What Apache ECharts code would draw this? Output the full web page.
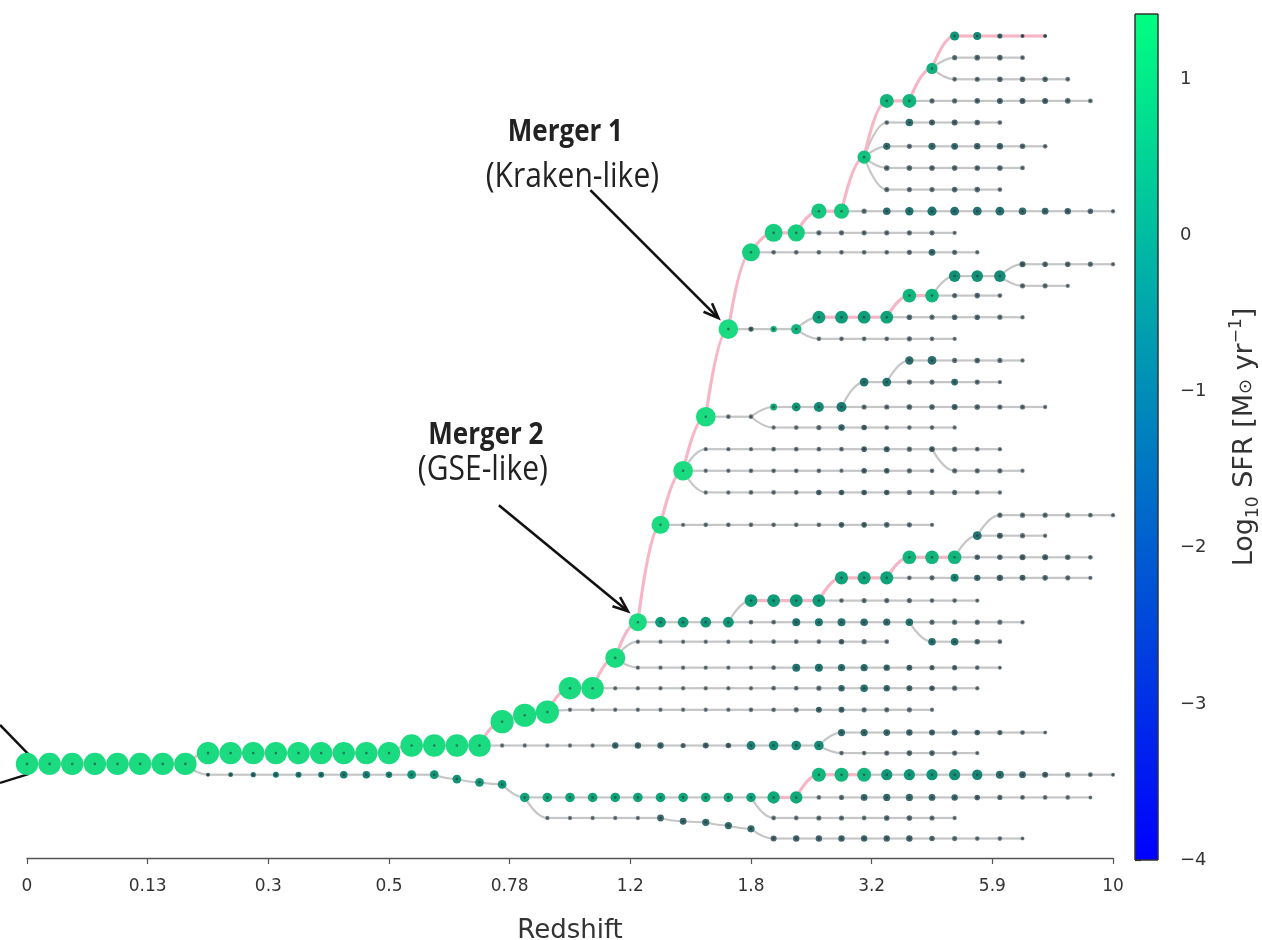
<!DOCTYPE html>
<html>
<head>
<meta charset="utf-8">
<script src="https://cdn.jsdelivr.net/npm/echarts@6/dist/echarts.min.js"></script>
<style>
  html, body { margin: 0; padding: 0; background: #ffffff; }
  #chart { width: 1262px; height: 940px; }
</style>
</head>
<body>
<div id="chart"></div>
<script>
// Redshift tick labels and the snapshot positions where they sit
const tickSnaps = [0, 5.333, 10.667, 16, 21.333, 26.667, 32, 37.333, 42.667, 48];
const tickLabels = ['0', '0.13', '0.3', '0.5', '0.78', '1.2', '1.8', '3.2', '5.9', '10'];
const sfrTicks = [-4, -3, -2, -1, 0, 1];

// Merger tree branches. Each branch hangs off a parent node [snapshot, row];
// its nodes occupy consecutive snapshots after the parent.
// branch 0 is the main progenitor branch (starts at snapshot 0).
const branchFrom = [
  null,
  [7, 33.65], [34, 35.2], [34, 35.2], [22, 35.2], [32, 35.2],
  [20, 32.8], [35, 32.8], [35, 32.8], [23, 31.25], [25, 30.15],
  [26, 28.75], [26, 28.75], [27, 27.1], [31, 27.1], [35, 26.1],
  [38, 25.05], [41, 24.1], [42, 23.1], [39, 27.1], [28, 22.6],
  [29, 20.1], [29, 20.1], [29, 20.1], [40, 19.1], [30, 17.6],
  [32, 17.6], [32, 17.6], [36, 17.15], [38, 16.0], [31, 13.55],
  [34, 13.55], [34, 13.55], [38, 13.0], [40, 12.0], [43, 11.1],
  [43, 11.1], [32, 10.0], [34, 9.1], [36, 8.1], [37, 5.6],
  [37, 5.6], [37, 5.6], [37, 5.6], [39, 3.0], [40, 1.5],
  [40, 1.5]
];

// Tree row of each branch (a list where the branch drifts between rows)
const branchRow = [
  [33.65, 33.65, 33.65, 33.65, 33.65, 33.65, 33.65, 33.65,
   33.15, 33.15, 33.15, 33.15, 33.15, 33.15, 33.15, 33.15, 33.15,
   32.8, 32.8, 32.8, 32.8,
   31.7, 31.4, 31.25, 30.15, 30.15, 28.75, 27.1, 22.6, 20.1, 17.6, 13.55, 10.0,
   9.1, 9.1, 8.1, 8.1, 5.6, 3.0, 3.0, 1.5, 0, 0, 0, 0, 0],
  [34.15, 34.15, 34.15, 34.15, 34.15, 34.15, 34.15, 34.15, 34.15, 34.15, 34.15,
   34.35, 34.5, 34.6,
   35.2, 35.2, 35.2, 35.2, 35.2, 35.2, 35.2, 35.2, 35.2, 35.2, 35.2, 35.2, 35.2],
  34.15, 35.2,
  [36.15, 36.15, 36.15, 36.15, 36.15, 36.15, 36.3, 36.35, 36.5, 36.65,
   37.1, 37.1, 37.1, 37.1, 37.1, 37.1, 37.1, 37.1, 37.1, 37.1, 37.1, 37.1],
  36.15,
  32.8, 32.2, 33.15, 31.15, 30.15,
  28.0, 29.2, 27.1, 26.1, 25.05,
  24.1, 23.1, 22.15, 28.0, 22.6,
  19.1, 20.1, 21.1, 20.1, 17.6,
  17.15, 18.1, 16.0, 15.0, 13.55,
  13.0, 14.0, 12.0, 11.1, 10.55,
  11.55, 10.0, 9.1, 8.1, 4.0,
  5.1, 6.1, 7.1, 3.0, 1.0,
  2.0
];

// log10 stellar mass of every node, branch by branch
const branchMass = [
  [10.6, 10.6, 10.6, 10.6, 10.6, 10.6, 10.6, 10.6, 10.6, 10.6, 10.6, 10.6, 10.6, 10.6, 10.6,
   10.6, 10.6, 10.6, 10.6, 10.6, 10.6,
   10.8, 10.8, 10.8, 10.6, 10.6, 10.0, 9.5, 9.5, 9.9, 9.9, 9.9, 9.5, 9.5, 9.3, 8.8, 8.8,
   8.3, 8.5, 8.5, 7.8, 7.3, 7.0, 6.3, 6.0, 6.0],
  [6.0, 6.2, 6.3, 6.5, 6.5, 6.5, 6.9, 6.9, 6.6, 7.2, 7.2, 7.2, 7.2, 7.2,
   7.4, 7.4, 7.4, 7.4, 7.4, 7.4, 7.4, 7.4, 7.4, 7.4, 7.4, 8.1, 8.1],
  [8.5, 8.5, 8.5, 7.8, 7.8, 7.8, 7.8, 7.6, 7.0, 6.7, 6.5, 6.4, 6.2, 6.0],
  [6.2, 6.3, 6.7, 6.8, 6.8, 6.7, 6.6, 6.4, 6.3, 6.2, 6.2, 6.2, 6.0],
  [6.1, 6.1, 6.1, 6.1, 6.1, 6.7, 6.7, 6.8, 6.8, 6.8, 6.5, 6.6, 6.6, 6.6, 6.6, 6.6, 6.6, 6.4, 6.3, 6.2, 6.2, 6.0],
  [6.2, 6.2, 6.3, 6.3, 6.2, 6.4, 6.4, 6.3, 6.1],
  [6.1, 6.1, 6.1, 6.1, 6.1, 6.6, 6.6, 6.6, 6.3, 6.5, 6.4, 7.2, 7.4, 7.4, 7.4],
  [6.8, 6.8, 6.7, 6.6, 6.5, 6.5, 6.4, 6.3, 6.2, 6.0],
  [6.2, 6.2, 6.3, 6.4, 6.4, 6.3, 6.1],
  [6.1, 6.1, 6.1, 6.1, 6.1, 6.1, 6.1, 6.1, 6.2, 6.2, 6.3, 6.5, 6.5, 6.3, 6.3, 6.3, 6.1],
  [6.1, 6.1, 6.1, 6.1, 6.1, 6.1, 6.1, 6.2, 6.2, 6.3, 6.6, 6.9, 6.6, 6.5, 6.4, 6.3, 6.1],
  [6.1, 6.1, 6.1, 6.1, 6.1, 6.1, 6.2, 6.2, 6.2, 6.4, 6.3, 6.2],
  [6.1, 6.1, 6.1, 6.1, 6.1, 6.1, 6.2, 7.0, 7.0, 6.8, 6.8, 6.6, 6.5, 6.3, 6.3, 6.2, 6.0],
  [7.7, 7.7, 7.7, 7.7, 6.2, 6.2, 7.0, 7.0, 7.0, 6.9, 6.8, 6.9, 6.3, 6.3, 6.3, 6.3, 6.1],
  [8.2, 8.2, 8.2, 8.2, 6.2, 6.3, 6.3, 6.3, 6.2, 6.2, 6.1],
  [8.3, 8.3, 8.3, 6.2, 6.3, 7.0, 6.6, 6.6, 6.5, 6.4, 6.3, 6.1],
  [8.4, 8.4, 8.4, 6.4, 6.4, 6.5, 6.5, 6.4, 6.2],
  [7.2, 6.5, 6.3, 6.1],
  [6.3, 6.3, 6.3, 6.3, 6.2, 6.1],
  [6.9, 6.9, 6.4, 6.2],
  [6.1, 6.2, 6.2, 6.2, 6.2, 6.2, 6.2, 6.4, 6.4, 6.4, 6.3, 6.1],
  [6.1, 6.1, 6.1, 6.2, 6.2, 6.2, 6.2, 6.4, 6.5, 6.3, 6.4, 6.3, 6.2, 6.1],
  [6.1, 6.1, 6.2, 6.2, 6.2, 6.2, 6.1, 6.4, 6.4, 6.3, 6.2],
  [6.1, 6.1, 6.2, 6.2, 6.2, 6.4, 6.4, 6.4, 6.4, 6.3, 6.3, 6.3, 6.2, 6.1],
  [6.3, 6.3, 6.3, 6.1],
  [6.2, 6.2],
  [6.7, 7.2, 7.5, 7.5, 6.3, 6.3, 6.4, 6.4, 6.5, 6.4, 6.3, 6.3, 6.1],
  [6.1, 6.2, 6.3, 6.6, 6.4, 6.2, 6.2, 6.2, 6.1],
  [7.2, 7.2, 6.3, 6.3, 6.7, 6.3, 6.1],
  [7.1, 7.2, 6.3, 6.4, 6.3, 6.1],
  [6.3, 6.6, 7.6],
  [8.2, 8.2, 8.2, 8.2, 6.4, 6.3, 6.4, 6.4, 6.3, 6.1],
  [6.2, 6.2, 6.2, 6.2, 6.3, 6.2, 6.1],
  [8.4, 8.4, 6.3, 6.4, 6.2],
  [7.9, 7.9, 7.9],
  [6.5, 6.4, 6.4, 6.3, 6.1],
  [6.3, 6.3, 6.1],
  [6.2, 6.2, 6.2, 6.2, 6.2, 6.2, 6.3, 6.7, 6.3, 6.1],
  [6.3, 6.3, 6.3, 6.3, 6.3, 6.3, 6.1],
  [6.3, 6.9, 7.1, 7.3, 7.2, 7.2, 7.2, 6.9, 6.7, 6.6, 6.4, 6.1],
  [6.2, 6.9, 6.5, 6.5, 6.4, 6.2],
  [6.8, 6.3, 6.8, 6.7, 6.6, 6.6, 6.4, 6.2],
  [6.4, 6.4, 6.4, 6.4, 6.4, 6.4, 6.2],
  [6.3, 6.3, 6.3, 6.4, 6.4, 6.2],
  [6.3, 6.3, 6.4, 6.5, 6.5, 6.5, 6.4, 6.2],
  [6.3, 6.4, 6.4, 6.2],
  [6.2, 6.3, 6.4, 6.4, 6.4, 6.2]
];

// log10 SFR [Msun/yr] of every node, branch by branch
const branchSfr = [
  [1.1, 1.1, 1.1, 1.1, 1.1, 1.1, 1.1, 1.1, 1.1, 1.1, 1.1, 1.1, 1.1, 1.1, 1.1, 1.1, 1.1,
   1.1, 1.1, 1.1, 1.1, 1.1, 1.1, 1.1, 1.1, 1.1,
   1.1, 1.1, 1.1, 1.1, 1.1, 1.1, 0.9, 0.9, 0.9, 0.8, 0.8, 0.7, 0.5, 0.5, 0.4, 0.0,
   -0.2, -1.0, -1.2, -1.2],
  [-0.9, -0.8, -0.7, -0.5, -0.5, -0.5, -0.4, -0.4, -0.3, 0.0, 0.0, 0.0, 0.0, 0.0,
   0.2, 0.2, 0.2, 0.2, 0.2, 0.2, 0.2, 0.2, 0.2, 0.2, 0.2, 0.3, 0.3],
  [0.5, 0.5, 0.5, 0.0, 0.0, 0.0, -0.1, -0.3, -0.8, -1.0, -1.2, -1.3, -1.4, -1.5],
  [-1.5, -1.4, -1.0, -0.9, -0.9, -1.0, -1.0, -1.2, -1.3, -1.4, -1.5, -1.5, -1.6],
  [-1.6, -1.6, -1.6, -1.6, -1.6, -1.0, -1.0, -0.9, -0.9, -0.9, -1.2, -1.1, -1.1, -1.1, -1.1,
   -1.1, -1.1, -1.3, -1.4, -1.5, -1.5, -1.6],
  [-1.5, -1.5, -1.4, -1.4, -1.5, -1.3, -1.3, -1.4, -1.6],
  [-1.6, -1.6, -1.6, -1.6, -1.6, -1.0, -1.0, -1.0, -1.3, -1.1, -1.2, -0.4, -0.2, -0.2, -0.2],
  [-0.9, -0.9, -1.0, -1.0, -1.1, -1.1, -1.2, -1.3, -1.4, -1.6],
  [-1.5, -1.5, -1.4, -1.3, -1.3, -1.4, -1.6],
  [-1.6, -1.6, -1.6, -1.6, -1.6, -1.6, -1.6, -1.6, -1.5, -1.5, -1.4, -1.1, -1.1, -1.4, -1.4, -1.4, -1.6],
  [-1.6, -1.6, -1.6, -1.6, -1.6, -1.6, -1.6, -1.5, -1.5, -1.4, -1.0, -0.7, -1.0, -1.1, -1.2, -1.4, -1.6],
  [-1.6, -1.6, -1.6, -1.6, -1.6, -1.6, -1.5, -1.5, -1.5, -1.2, -1.4, -1.5],
  [-1.6, -1.6, -1.6, -1.6, -1.6, -1.6, -1.5, -0.6, -0.6, -0.8, -0.8, -1.0, -1.1, -1.3, -1.3, -1.5, -1.6],
  [0.1, 0.1, 0.0, 0.0, -1.5, -1.5, -0.6, -0.5, -0.7, -0.8, -0.9, -0.6, -1.4, -1.4, -1.4, -1.5, -1.6],
  [0.1, 0.1, 0.1, 0.1, -1.5, -1.4, -1.4, -1.4, -1.5, -1.5, -1.6],
  [0.2, 0.2, 0.2, -1.5, -1.4, -0.3, -1.0, -1.1, -1.2, -1.3, -1.4, -1.6],
  [0.5, 0.5, 0.5, -1.3, -1.3, -1.2, -1.2, -1.3, -1.5],
  [-0.7, -1.2, -1.4, -1.6],
  [-1.4, -1.4, -1.4, -1.4, -1.5, -1.6],
  [-0.7, -0.7, -1.3, -1.5],
  [-1.6, -1.5, -1.5, -1.5, -1.5, -1.5, -1.5, -1.2, -1.2, -1.3, -1.4, -1.6],
  [-1.6, -1.6, -1.6, -1.5, -1.5, -1.5, -1.5, -1.2, -1.1, -1.4, -1.2, -1.4, -1.5, -1.6],
  [-1.6, -1.6, -1.5, -1.5, -1.5, -1.5, -1.6, -1.2, -1.2, -1.4, -1.5],
  [-1.6, -1.6, -1.5, -1.5, -1.5, -1.2, -1.2, -1.2, -1.2, -1.4, -1.4, -1.4, -1.5, -1.6],
  [-1.4, -1.4, -1.4, -1.6],
  [-1.5, -1.5],
  [0.3, 0.0, -0.2, -0.5, -1.4, -1.4, -1.3, -1.3, -1.1, -1.3, -1.4, -1.4, -1.6],
  [-1.6, -1.5, -1.4, -1.0, -1.2, -1.5, -1.5, -1.5, -1.6],
  [-0.6, -0.6, -1.4, -1.4, -0.9, -1.4, -1.6],
  [-0.8, -0.8, -1.4, -1.3, -1.4, -1.6],
  [-1.2, 0.4, 0.5],
  [0.1, 0.1, 0.1, 0.2, -1.3, -1.4, -1.3, -1.3, -1.4, -1.6],
  [-1.5, -1.5, -1.5, -1.5, -1.4, -1.5, -1.6],
  [0.5, 0.5, -1.4, -1.3, -1.5],
  [-0.1, -0.1, -0.2],
  [-1.1, -1.3, -1.3, -1.4, -1.6],
  [-1.4, -1.4, -1.6],
  [-1.5, -1.5, -1.5, -1.5, -1.5, -1.5, -1.4, -0.9, -1.4, -1.6],
  [-1.4, -1.4, -1.4, -1.4, -1.4, -1.4, -1.6],
  [-1.4, -0.8, -0.6, -0.6, -0.7, -0.7, -0.7, -0.9, -1.0, -1.1, -1.3, -1.6],
  [-1.5, -0.8, -1.2, -1.2, -1.3, -1.5],
  [-0.9, -1.4, -0.9, -1.0, -1.1, -1.1, -1.3, -1.5],
  [-1.3, -1.3, -1.3, -1.3, -1.3, -1.3, -1.5],
  [-1.4, -1.4, -1.4, -1.3, -1.3, -1.5],
  [-1.4, -1.4, -1.3, -1.2, -1.2, -1.2, -1.3, -1.5],
  [-1.4, -1.3, -1.3, -1.5],
  [-1.5, -1.4, -1.3, -1.3, -1.3, -1.5]
];

// ---- build nodes [snap, row, logM, logSFR] and edges [snap0, row0, snap1, row1] ----
const nodes = [];
const grayEdges = [];
const pinkEdges = [];
const massAt = {};
const keyOf = (s, r) => s + '|' + r;

branchFrom.forEach((from, b) => {
  const start = from ? from[0] + 1 : 0;
  const rows = branchRow[b];
  let prev = from ? [from[0], from[1], massAt[keyOf(from[0], from[1])]] : null;
  branchMass[b].forEach((m, i) => {
    const snap = start + i;
    const row = Array.isArray(rows) ? rows[i] : rows;
    nodes.push([snap, row, m, branchSfr[b][i]]);
    massAt[keyOf(snap, row)] = m;
    if (prev) {
      const edge = [prev[0], prev[1], snap, row];
      if (b === 0 || (prev[2] >= 8 && m >= 8)) pinkEdges.push(edge);
      else grayEdges.push(edge);
    }
    prev = [snap, row, m];
  });
});
nodes.sort((a, b) => a[2] - b[2]);

const sizeOf = (m) => (m - 5) * 4;

function edgeRenderer(color, width) {
  return function (params, api) {
    const p0 = api.coord([api.value(0), api.value(1)]);
    const p1 = api.coord([api.value(2), api.value(3)]);
    const cpx = p0[0] + (p1[0] - p0[0]) * 0.55;
    return {
      type: 'bezierCurve',
      shape: { x1: p0[0], y1: p0[1], x2: p1[0], y2: p1[1], cpx1: cpx, cpy1: p1[1] },
      style: { stroke: color, lineWidth: width, fill: null }
    };
  };
}

const txt = '#333333';
const FONT = 'DejaVu Sans';
const chart = echarts.init(document.getElementById('chart'), null, { renderer: 'canvas' });

chart.setOption({
  animation: false,
  backgroundColor: '#ffffff',
  textStyle: { fontFamily: FONT },
  grid: [
    { left: 27, right: 149, top: 36, bottom: 82, outerBoundsMode: 'none' },
    { left: 1135, width: 23, top: 14, height: 846, outerBoundsMode: 'none' }
  ],
  xAxis: [
    {
      gridIndex: 0, type: 'value', min: 0, max: 48, position: 'bottom',
      axisLine: { show: true, onZero: false, lineStyle: { color: '#555', width: 1.4 } },
      axisTick: { show: true, customValues: tickSnaps, length: 6, lineStyle: { color: '#555', width: 1.2 } },
      axisLabel: {
        customValues: tickSnaps, fontSize: 17, color: txt, margin: 20, fontFamily: FONT,
        formatter: (v) => {
          const i = tickSnaps.findIndex(t => Math.abs(t - v) < 1e-6);
          return i >= 0 ? tickLabels[i] : '';
        }
      },
      splitLine: { show: false },
      name: 'Redshift', nameLocation: 'middle', nameGap: 60,
      nameTextStyle: { fontSize: 26, color: txt, fontFamily: FONT }
    },
    { gridIndex: 1, type: 'value', min: 0, max: 1, show: false }
  ],
  yAxis: [
    { gridIndex: 0, type: 'value', inverse: true, min: 0, max: 38, show: false },
    {
      gridIndex: 1, type: 'value', min: -4, max: 1.42, position: 'right',
      axisLine: { show: false },
      axisTick: { show: true, customValues: sfrTicks, length: 6, lineStyle: { color: '#333', width: 1.2 } },
      axisLabel: {
        customValues: sfrTicks, fontSize: 18, color: txt, margin: 22, fontFamily: FONT,
        formatter: (v) => (v < 0 ? '\u2212' + Math.abs(v) : String(v))
      },
      splitLine: { show: false },
      name: '{t|Log}{s|10}{t| SFR [M}{o|\u2299}{t| yr}{u|\u22121}{t|]}',
      nameLocation: 'middle', nameRotate: 90, nameGap: 70,
      nameTextStyle: {
        color: txt, fontFamily: FONT,
        rich: {
          t: { fontSize: 27, lineHeight: 34, fontFamily: FONT, color: txt, verticalAlign: 'middle' },
          s: { fontSize: 17, lineHeight: 34, fontFamily: FONT, color: txt, verticalAlign: 'bottom' },
          o: { fontSize: 18, lineHeight: 34, fontFamily: FONT, color: txt, verticalAlign: 'bottom', padding: [0, 0, 7, 0] },
          u: { fontSize: 17, lineHeight: 34, fontFamily: FONT, color: txt, verticalAlign: 'top' }
        }
      }
    }
  ],
  visualMap: {
    type: 'continuous', show: false, min: -1.8, max: 1.3, dimension: 3,
    seriesIndex: 2,
    inRange: { color: ['#9ba0a4', '#45626a', '#1d7570', '#0f9a78', '#13c07e', '#1ee880'] }
  },
  series: [
    {
      type: 'custom', name: 'edges', xAxisIndex: 0, yAxisIndex: 0, z: 1,
      data: grayEdges, encode: { x: [0, 2], y: [1, 3] },
      renderItem: edgeRenderer('#c6c6c6', 2.2), silent: true
    },
    {
      type: 'custom', name: 'main edges', xAxisIndex: 0, yAxisIndex: 0, z: 2,
      data: pinkEdges, encode: { x: [0, 2], y: [1, 3] },
      renderItem: edgeRenderer('#f6b6c5', 3.2), silent: true
    },
    {
      type: 'scatter', name: 'nodes', xAxisIndex: 0, yAxisIndex: 0, z: 3,
      data: nodes, encode: { x: 0, y: 1 },
      symbolSize: (v) => sizeOf(v[2]),
      itemStyle: { opacity: 1 }
    },
    {
      type: 'scatter', name: 'centres', xAxisIndex: 0, yAxisIndex: 0, z: 4,
      data: nodes, encode: { x: 0, y: 1 }, symbolSize: 2.6,
      itemStyle: { color: 'rgba(35,45,50,0.7)' }, silent: true
    },
    {
      type: 'custom', name: 'colorbar', xAxisIndex: 1, yAxisIndex: 1, z: 1,
      data: [[0, -4, 1, 1.42]], silent: true,
      renderItem: (params, api) => {
        const lo = api.coord([api.value(0), api.value(1)]);
        const hi = api.coord([api.value(2), api.value(3)]);
        return {
          type: 'rect',
          shape: { x: lo[0], y: hi[1], width: hi[0] - lo[0], height: lo[1] - hi[1] },
          style: {
            fill: new echarts.graphic.LinearGradient(0, 1, 0, 0, [
              { offset: 0, color: '#0000ff' }, { offset: 1, color: '#00ff80' }
            ]),
            stroke: '#333', lineWidth: 1
          }
        };
      }
    }
  ]
});

// Annotation arrows and labels anchored on the two merger nodes
function arrow(tail, tip) {
  const dx = tip[0] - tail[0], dy = tip[1] - tail[1];
  const len = Math.hypot(dx, dy), ux = dx / len, uy = dy / len;
  const L = 15, W = 6;
  return [
    { type: 'line', shape: { x1: tail[0], y1: tail[1], x2: tip[0], y2: tip[1] },
      style: { stroke: '#111', lineWidth: 2.6 } },
    { type: 'polyline', shape: { points: [
        [tip[0] - L * ux - W * uy, tip[1] - L * uy + W * ux], tip,
        [tip[0] - L * ux + W * uy, tip[1] - L * uy - W * ux]] },
      style: { stroke: '#111', lineWidth: 2.6, fill: null } }
  ];
}
function label(x, y, text, bold) {
  return { type: 'text', x: x, y: y, scaleY: 1.15, style: {
    text: text, fill: '#222', fontSize: bold ? 26 : 30, fontWeight: bold ? 'bold' : 'normal',
    fontFamily: 'Open Sans', align: 'center', verticalAlign: 'middle' } };
}
const m1 = chart.convertToPixel({ gridIndex: 0 }, [31, 13.55]);
const m2 = chart.convertToPixel({ gridIndex: 0 }, [27, 27.1]);
const root = chart.convertToPixel({ gridIndex: 0 }, [0, 33.65]);
const off = (p, dx, dy) => [p[0] + dx, p[1] + dy];

chart.setOption({
  graphic: [].concat(
    arrow(off(m1, -138, -139), off(m1, -10, -11)),
    arrow(off(m2, -139, -117), off(m2, -10, -11)),
    [
      label(m1[0] - 163, m1[1] - 197, 'Merger 1', true),
      label(m1[0] - 156, m1[1] - 152, '(Kraken-like)', false),
      label(m2[0] - 152, m2[1] - 187, 'Merger 2', true),
      label(m2[0] - 155, m2[1] - 152, '(GSE-like)', false),
      { type: 'line', shape: { x1: root[0] - 27, y1: root[1] - 39, x2: root[0] + 4, y2: root[1] - 7 },
        style: { stroke: '#111', lineWidth: 2.4 } },
      { type: 'line', shape: { x1: root[0] - 27, y1: root[1] + 19, x2: root[0] + 2, y2: root[1] + 10 },
        style: { stroke: '#111', lineWidth: 2.4 } }
    ]
  )
});
</script>
</body>
</html>
